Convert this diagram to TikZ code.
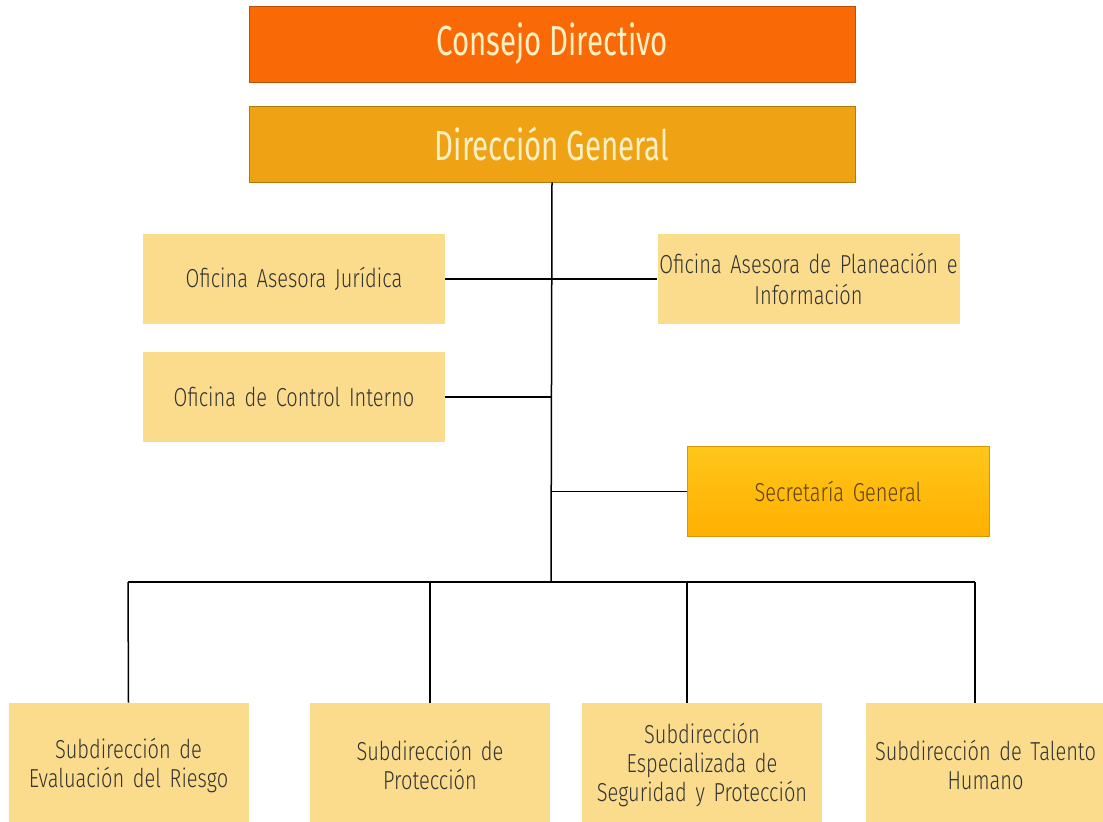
\documentclass[tikz,border=0pt]{standalone}
\usepackage{fontspec}
\setmainfont{Fira Sans Light}[FakeStretch=0.77]
\newfontfamily\titulofont{Fira Sans}[FakeStretch=0.7]
\usetikzlibrary{positioning}

\definecolor{naranja}{HTML}{F96A06}
\definecolor{ambar}{HTML}{EEA214}
\definecolor{crema}{HTML}{FADC8C}
\definecolor{oroalto}{HTML}{FFC61A}
\definecolor{orobajo}{HTML}{FFB000}
\definecolor{textoclaro}{HTML}{FFF1C4}
\definecolor{textoos}{HTML}{333333}
\definecolor{textocafe}{HTML}{5E4010}

\begin{document}
\begin{tikzpicture}[
            % 1 px de la imagen = 0.5pt
            x=0.5pt, y=-0.5pt,
            % Bloques de la direccion
            titulo/.style={rectangle, draw=#1!75!black, fill=#1, minimum width=303pt, minimum height=38pt, inner sep=0pt, text=textoclaro, font={\titulofont\fontsize{21}{24}\selectfont\spaceskip=4pt}},
            % Oficinas asesoras
            oficina/.style={rectangle, fill=crema, minimum width=151pt, minimum height=45pt, inner sep=0pt, text width=150pt, align=center, text=textoos, font={\fontsize{13}{15.5}\selectfont\spaceskip=3pt}},
            % Subdirecciones
            sub/.style={oficina, minimum width=120pt, minimum height=62pt, text width=120pt, font={\fontsize{13}{14.5}\selectfont\spaceskip=3pt}},
            line/.style={draw, line width=0.75pt}
        ]
            \useasboundingbox (0,0) rectangle (1103,821);
            \clip (0,0) rectangle (1103,821);

            \node [titulo=naranja] (consejo) at (552,44) {Consejo Directivo};
            \node [titulo=ambar] (direccion) at (552,144) {Dirección General};

            \node [oficina] (juridica) at (294,279) {Oficina Asesora Jurídica};
            \node [oficina] (planeacion) at (808.5,279) {Oficina Asesora de Planeación e\\Información};
            \node [oficina] (control) at (294,397) {Oficina de Control Interno};
            \node [oficina, draw=orobajo!85!black, top color=oroalto, bottom color=orobajo, text=textocafe] (secretaria) at (838,491.5) {Secretaría General};

            \node [sub] (evaluacion) at (128.5,765) {Subdirección de\\Evaluación del Riesgo};
            \node [sub] (proteccion) at (430,765) {Subdirección de\\Protección};
            \node [sub] (seguridad) at (702,765) {Subdirección\\Especializada de\\Seguridad y Protección};
            \node [sub] (talento) at (985.5,765) {Subdirección de Talento\\Humano};

            % Tronco y ramas
            \coordinate (bus) at (551,582);
            \coordinate (ramaizq) at (128,582);
            \coordinate (ramader) at (975,582);

            \path [line] (direccion.south) -- (bus);
            \path [line] (juridica) -- (planeacion);
            \path [line] (control.east) -- (control.east -| bus);
            \path [line] (secretaria.west) -- (secretaria.west -| bus);
            \path [line] (ramaizq) -- (ramader);

            \path [line] (ramaizq) -- (evaluacion.north);
            \path [line] (proteccion.north |- bus) -- (proteccion.north);
            \path [line] ([xshift=-7.5pt]seguridad.north |- bus) -- ([xshift=-7.5pt]seguridad.north);
            \path [line] (ramader) -- (ramader |- talento.north);
        \end{tikzpicture}
\end{document}
